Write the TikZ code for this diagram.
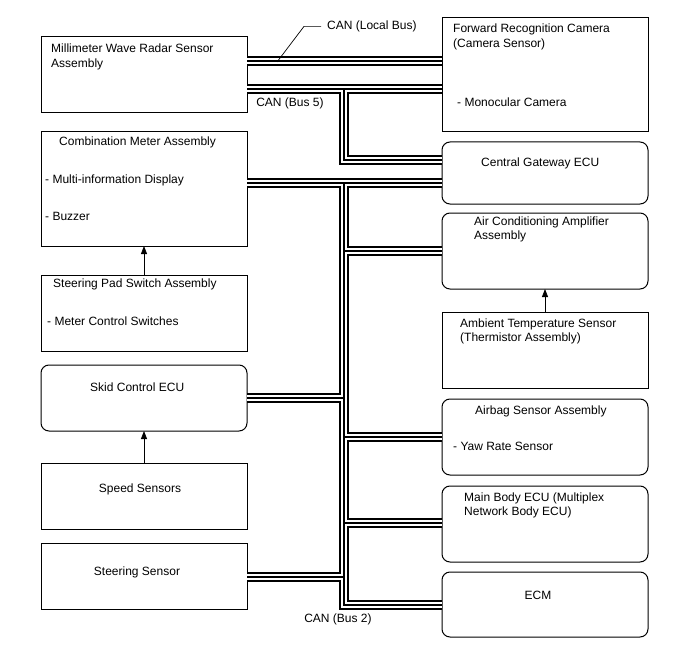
\documentclass[tikz,border=0pt]{standalone}
\usepackage{fontspec}
\setmainfont{Liberation Sans}
\usetikzlibrary{arrows.meta}
\newcommand\drawbuses[1]{%
  \draw[#1] (radar.east |- jL) -- (camera.west |- jL);
  \draw[#1] (radar.east |- j5) -- (camera.west |- j5);
  \draw[#1] (j5) -- (g5) -- (gateway.west |- g5);
  \draw[#1] (comb.east |- j2) -- (gateway.west |- j2);
  \draw[#1] (j2) -- (jecm) -- (ecm.west |- jecm);
  \draw[#1] (skid.east |- jsk) -- (jsk);
  \draw[#1] (steer.east |- jst) -- (jst);
  \draw[#1] (jac) -- (aircon.west |- jac);
  \draw[#1] (jab) -- (airbag.west |- jab);
  \draw[#1] (jmb) -- (mainbody.west |- jmb);
}
\begin{document}
\begin{tikzpicture}[x=1pt,y=-1pt,
  box/.style={draw, line width=1pt, inner sep=0pt, outer sep=0pt, minimum width=206pt},
  rbox/.style={box, rounded corners=8pt},
  lbl/.style={inner sep=0pt, font=\fontsize{12}{14}\selectfont, anchor=base west},
  clbl/.style={lbl, anchor=base},
  arr/.style={line width=0.8pt, -{Triangle[length=8pt,width=6pt]}},
  busA/.style={line width=10pt, draw=black, line join=miter},
  busB/.style={line width=5.2pt, draw=white, line join=miter},
  busC/.style={line width=1.4pt, draw=black, line join=miter},
  lead/.style={line width=0.7pt}]
\useasboundingbox (0,0) rectangle (688,658);

% left column
\node[box, minimum height=76pt]  (radar) at (144,75) {};
\node[box, minimum height=114pt] (comb)  at (144,189) {};
\node[box, minimum height=76pt]  (pad)   at (144,313) {};
\node[rbox, minimum height=66pt] (skid)  at (144,398) {};
\node[box, minimum height=66pt]  (speed) at (144,496) {};
\node[box, minimum height=66pt]  (steer) at (144,576) {};
% right column
\node[box, minimum height=114pt] (camera)   at (545,75) {};
\node[rbox, minimum height=62pt] (gateway)  at (545,173) {};
\node[rbox, minimum height=76pt] (aircon)   at (545,251) {};
\node[box, minimum height=76pt]  (ambient)  at (545,350) {};
\node[rbox, minimum height=76pt] (airbag)   at (545,437) {};
\node[rbox, minimum height=76pt] (mainbody) at (545,524) {};
\node[rbox, minimum height=65pt] (ecm)      at (545,604.5) {};

% texts
\node[lbl] (radar1) at (51,52.5) {Millimeter Wave Radar Sensor};
\node[lbl] (radar2) at (51,67.5) {Assembly};
\node[lbl] (comb1) at (59,145.5) {Combination Meter Assembly};
\node[lbl] (comb2) at (45,183.5) {- Multi-information Display};
\node[lbl] (comb3) at (45,220.5) {- Buzzer};
\node[lbl] (pad1) at (53,287.5) {Steering Pad Switch Assembly};
\node[lbl] (pad2) at (47,325.5) {- Meter Control Switches};
\node[lbl] (skid1) at (90,391.5) {Skid Control ECU};
\node[clbl] (speed1) at (140,492.5) {Speed Sensors};
\node[clbl] (steer1) at (137,575.5) {Steering Sensor};
\node[lbl] (cam1) at (453,32.5) {Forward Recognition Camera};
\node[lbl] (cam2) at (453,47.5) {(Camera Sensor)};
\node[lbl] (cam3) at (457,106.5) {- Monocular Camera};
\node[lbl] (gw1) at (481,166.5) {Central Gateway ECU};
\node[lbl] (ac1) at (474,225.5) {Air Conditioning Amplifier};
\node[lbl] (ac2) at (474,239.5) {Assembly};
\node[lbl] (amb1) at (460,327.5) {Ambient Temperature Sensor};
\node[lbl] (amb2) at (460,341.5) {(Thermistor Assembly)};
\node[lbl] (ab1) at (475,414.5) {Airbag Sensor Assembly};
\node[lbl] (ab2) at (453,450.5) {- Yaw Rate Sensor};
\node[lbl] (mb1) at (464,501.5) {Main Body ECU (Multiplex};
\node[lbl] (mb2) at (464,515.5) {Network Body ECU)};
\node[clbl] (ecm1) at (538,599.5) {ECM};

% arrows
\draw[arr] (pad.north) -- (comb.south);
\draw[arr] (speed.north) -- (skid.south);
\draw[arr] (ambient.north) -- (aircon.south);

% bus coordinates
\coordinate (jL) at (300,61);
\coordinate (j5) at (344,89);
\coordinate (g5) at (344,160);
\coordinate (j2) at (344,183);
\coordinate (jac) at (344,251);
\coordinate (jsk) at (344,398);
\coordinate (jab) at (344,437);
\coordinate (jmb) at (344,523);
\coordinate (jst) at (344,577);
\coordinate (jecm) at (344,605);

\drawbuses{busA}
\drawbuses{busB}
\drawbuses{busC}

% bus labels
\node[lbl] (loc) at (327,29.5) {CAN (Local Bus)};
\coordinate (lt) at (277,62);
\draw[lead] ([xshift=-6pt]loc.west) -- ++(-17,0) -- (lt);
\node[clbl] (b5) at (290,107) {CAN (Bus 5)};
\node[clbl] (b2) at (338,622.5) {CAN (Bus 2)};
\end{tikzpicture}
\end{document}
